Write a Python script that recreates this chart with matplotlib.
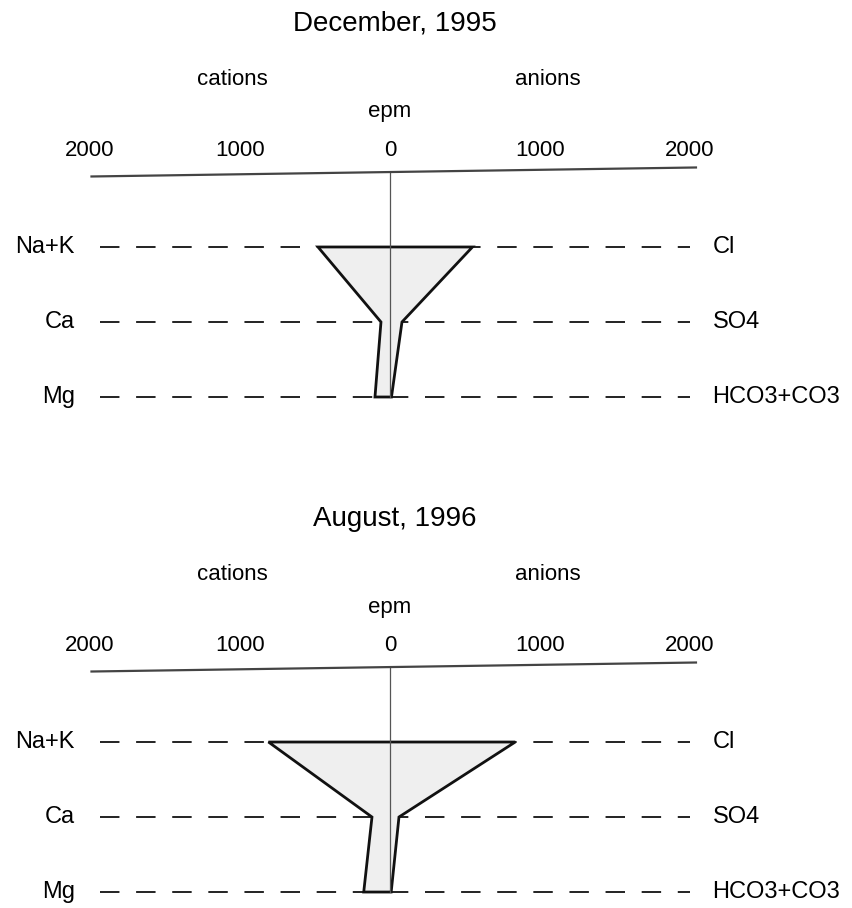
import matplotlib
matplotlib.use("Agg")
import matplotlib.pyplot as plt
from matplotlib.patches import Polygon

plt.rcParams['font.family'] = ['Liberation Sans', 'DejaVu Sans']
plt.rcParams['lines.scale_dashes'] = False

# Stiff diagram data (epm)
titles = ["December, 1995", "August, 1996"]
cation_names = ["Na+K", "Ca", "Mg"]
anion_names = ["Cl", "SO4", "HCO3+CO3"]
cations_dec = [480, 60, 100]
anions_dec = [550, 80, 10]
cations_aug = [810, 120, 175]
anions_aug = [835, 60, 8]
tick_vals = [-2000, -1000, 0, 1000, 2000]

W, H = 853, 908
fig = plt.figure(figsize=(W / 100, H / 100), dpi=100)

panels = [
    (titles[0], cations_dec, anions_dec, [0, 0.5, 1, 0.5], (2.76, -3.293)),
    (titles[1], cations_aug, anions_aug, [0, 0, 1, 0.5], (2.213, -3.84)),
]

for title, cat, an, rect, ylim in panels:
    ax = fig.add_axes(rect)
    ax.set_xlim(-2600, 3087)
    ax.set_ylim(*ylim)
    ax.axis('off')

    rows = list(range(len(cat)))

    # dashed row guides
    for r in rows:
        ax.plot([-1930, 2000], [r, r], color='#222222', lw=1.4,
                dashes=(14, 12), zorder=1)

    # polygon
    pts = [(-c, r) for c, r in zip(cat, rows)] + \
          [(a, r) for a, r in reversed(list(zip(an, rows)))]
    poly = Polygon(pts, closed=True, facecolor='#efefef',
                   edgecolor='#111111', lw=2.0, joinstyle='miter', zorder=2)
    ax.add_patch(poly)

    # vertical zero line
    ax.plot([0, 0], [-1.0, rows[-1]], color='#555555', lw=0.9, zorder=3)

    # top epm axis (slightly tilted as in the scan)
    ax.plot([-1990, 2040], [-0.94, -1.06], color='#444444', lw=1.6, zorder=3)
    for t in tick_vals:
        ax.text(t, -1.29, f"{abs(t)}", ha='center', va='center', fontsize=16)

    ax.text(0, -1.8, "epm", ha='center', va='center', fontsize=16)
    ax.text(-1050, -2.23, "cations", ha='center', va='center', fontsize=16)
    ax.text(1050, -2.23, "anions", ha='center', va='center', fontsize=16)
    ax.text(30, -2.98, title, ha='center', va='center', fontsize=20)

    for r, name in zip(rows, cation_names):
        ax.text(-2100, r, name, ha='right', va='center', fontsize=17)
    for r, name in zip(rows, anion_names):
        ax.text(2150, r, name, ha='left', va='center', fontsize=17)

fig.savefig("out.png", dpi=100)
